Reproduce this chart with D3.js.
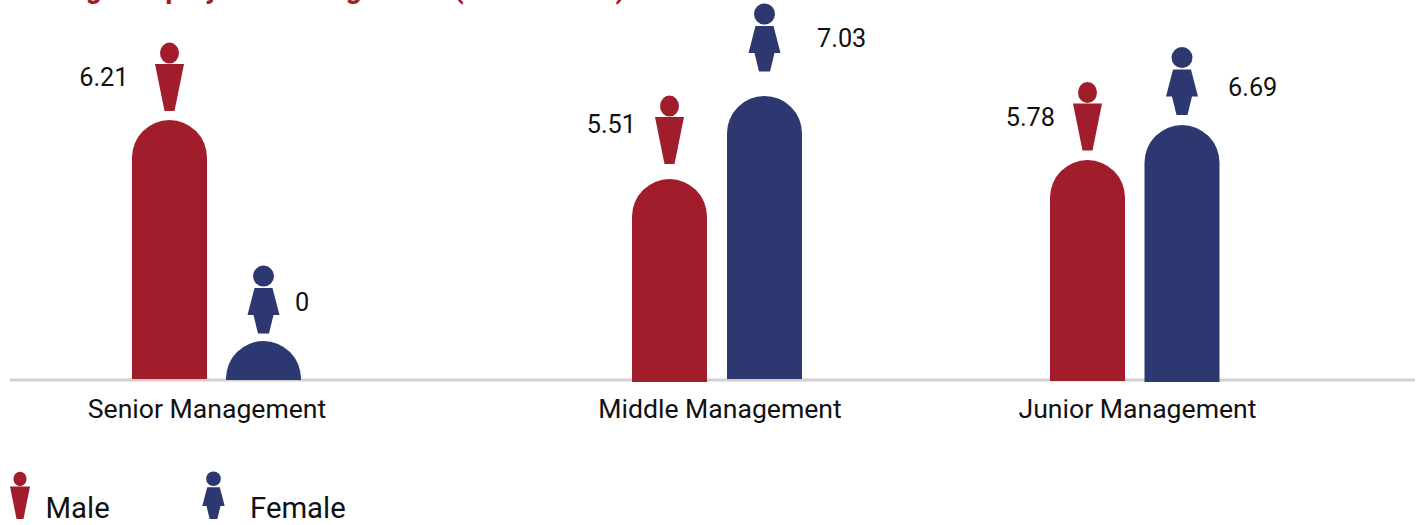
<!DOCTYPE html>
<html><head><meta charset="utf-8">
<script src="https://cdn.jsdelivr.net/npm/d3@7"></script>
<style>html,body{margin:0;padding:0;background:#fff;overflow:hidden}text{font-family:Roboto,sans-serif;fill:#111}</style>
</head><body><svg id="c" width="1425" height="525"></svg>
<script>
// DATA
const categories = ["Senior Management","Middle Management","Junior Management"];
const maleLabels = ["6.21","5.51","5.78"];
const femaleLabels = ["0","7.03","6.69"];
// bar levels as drawn in the picture (the drawn heights do not follow the printed values)
const maleLevels = [7.22,5.58,6.11];
const femaleLevels = [1.08,7.89,7.08];
const legendLabels = ["Male","Female"];
const titleText = "Average Employee Training Hours (Genderwise)";

// LAYOUT
const W=1425,H=525,base=380,barW=75,colMale="#a11d2b",colFemale="#2d3870";
const svg=d3.select("#c");
const y=d3.scaleLinear().domain([0,8]).range([base,base-288]);
const xMale=d3.scaleOrdinal().domain(categories).range([132,632,1050]);
const xFemale=d3.scaleOrdinal().domain(categories).range([226,727,1144.5]);
const xLabel=d3.scaleOrdinal().domain(categories).range([207,720,1137.5]);
const male={color:colMale,x:xMale,levels:maleLevels,labels:maleLabels,gap:[9,15,9.5],
  lx:[128.5,636,1055],ly:[86,133,126],anchor:"end",bottom:[379,382,381]};
const female={color:colFemale,x:xFemale,levels:femaleLevels,labels:femaleLabels,gap:[7.5,24.5,10],
  lx:[295,817,1228],ly:[311,47,96],anchor:"start",bottom:[380,379,382]};

function malePath(g,k){
  g.append("ellipse").attr("cx",0).attr("cy",-58*k).attr("rx",9.5*k).attr("ry",10.5*k);
  g.append("path").attr("d",d3.line()([[-14.5,-47],[14.5,-47],[5,0],[-5,0]].map(p=>[p[0]*k,p[1]*k]))+"Z");
}
function femalePath(g,k){
  g.append("circle").attr("cx",0).attr("cy",-57.5*k).attr("r",10.5*k);
  g.append("path").attr("d",d3.line()([[-9,-45.5],[9,-45.5],[16,-18.5],[10,-18.5],[5.5,0],[-5.5,0],[-10,-18.5],[-16,-18.5]].map(p=>[p[0]*k,p[1]*k]))+"Z");
}

// axis line
svg.append("line").attr("x1",10).attr("x2",1415).attr("y1",base).attr("y2",base).attr("stroke","#cfcfcf").attr("stroke-width",3);

// title (clipped by the top edge)
svg.append("text").attr("x",12).attr("y",-2).attr("font-size",28.6).attr("font-weight",700).style("fill",colMale).text(titleText);

[male,female].forEach((s,si)=>{
  const f=si==0?malePath:femalePath;
  categories.forEach((c,i)=>{
    const x0=s.x(c), top=y(s.levels[i]), r=barW/2, b=s.bottom[i];
    const dy=b-top;
    const d = dy>r
      ? `M${x0},${b}V${top+r}A${r},${r} 0 0 1 ${x0+barW},${top+r}V${b}Z`
      : `M${x0},${b}A${r},${dy} 0 0 1 ${x0+barW},${b}Z`;
    svg.append("path").attr("d",d).attr("fill",s.color);
    const g=svg.append("g").attr("fill",s.color).attr("transform",`translate(${x0+r},${top-s.gap[i]})`);
    f(g,1);
    svg.append("text").attr("x",s.lx[i]).attr("y",s.ly[i]).attr("text-anchor",s.anchor).attr("font-size",25.3).text(s.labels[i]);
  });
});
categories.forEach(c=>{
  svg.append("text").attr("x",xLabel(c)).attr("y",417.5).attr("text-anchor","middle").attr("font-size",26.6).text(c);
});
// legend
const lg=[[20,519,0.69,malePath,colMale,45.5],[213.5,519,0.7,femalePath,colFemale,250]];
lg.forEach((l,i)=>{
  const g=svg.append("g").attr("fill",l[4]).attr("transform",`translate(${l[0]},${l[1]})`);
  l[3](g,l[2]);
  svg.append("text").attr("x",l[5]).attr("y",518).attr("font-size",29.3).text(legendLabels[i]);
});
</script></body></html>
